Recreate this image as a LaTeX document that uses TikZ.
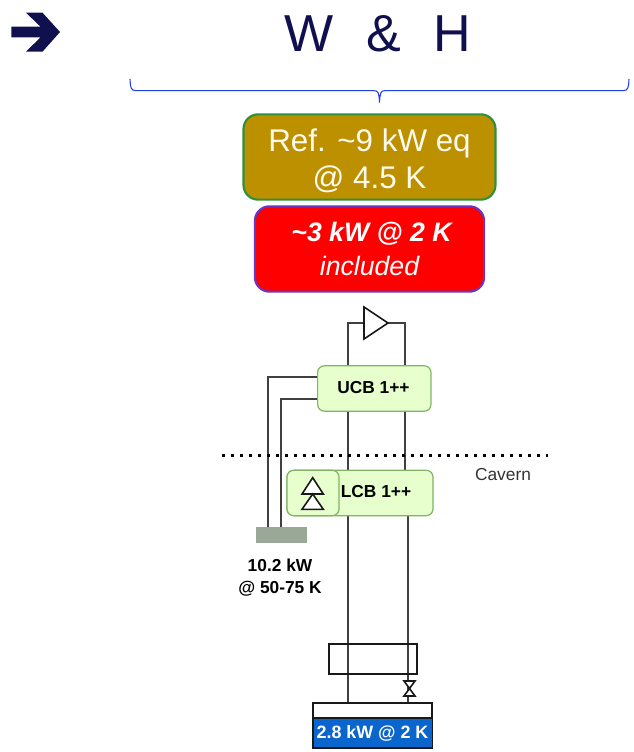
\documentclass[tikz,border=0pt]{standalone}
\usepackage{fontspec}
\setmainfont{Liberation Sans}
\definecolor{navy}{HTML}{10104F}
\definecolor{bracecol}{HTML}{1F3FE8}
\definecolor{goldfill}{HTML}{BD9000}
\definecolor{goldline}{HTML}{2F8F3A}
\definecolor{redline}{HTML}{6A35C4}
\definecolor{boxfill}{HTML}{E6FFCC}
\definecolor{boxline}{HTML}{82B366}
\definecolor{coldfill}{HTML}{0A66CC}
\definecolor{shieldfill}{HTML}{9AA898}
\definecolor{cream}{HTML}{FFFBEF}
\tikzset{
    pipe/.style={draw=black!75, line width=1.3pt},
    part/.style={draw=black!90, line width=1.2pt},
    coldbox/.style={rounded corners=5pt, fill=boxfill, draw=boxline, line width=0.9pt, inner sep=0pt},
    boxtext/.style={font=\bfseries\fontsize{13}{15}\selectfont, inner sep=0pt},
}
\begin{document}
\begin{tikzpicture}[x=0.75pt, y=-0.75pt]
    \useasboundingbox (0,0) rectangle (634,752);

    % title row
    \fill[navy] (11.3,26.7) -- (40.5,26.7) -- (26,12.7) -- (42.5,12.7) -- (60,32)
        -- (42.5,51.7) -- (26,51.7) -- (40.5,37.3) -- (11.3,37.3) -- cycle;
    \node[navy, font=\fontsize{39}{44}\selectfont, inner sep=0pt] (title) at (378,33.5) {W\hspace{24.4pt}\&\hspace{24.4pt}H};
    \draw[bracecol, line width=0.8pt] (130,79) .. controls (130.5,87) and (130.5,90.7) .. (136,90.7)
        -- (374,90.7) .. controls (378,90.7) and (379,92) .. (379.5,102.7)
        .. controls (380,92) and (381,90.7) .. (385,90.7)
        -- (623,90.7) .. controls (628.5,90.7) and (628.5,87) .. (629,79);

    % load boxes
    \node[fill=goldfill, draw=goldline, line width=1.6pt, rounded corners=11pt, text=cream, inner sep=0pt,
        minimum width=189pt, minimum height=64pt, align=center,
        font=\fontsize{23.5}{27.75}\selectfont] (refbox) at (369.5,157) {\rule{0pt}{23pt}Ref. \char`\~9 kW eq\\@ 4.5 K};
    \node[fill=red, draw=redline, line width=1.6pt, rounded corners=11pt, text=white, inner sep=0pt,
        minimum width=172pt, minimum height=64pt, align=center,
        font=\itshape\fontsize{20}{25}\selectfont] (redbox) at (369.5,249) {\hspace*{3pt}\bfseries \char`\~3 kW @ 2 K\\\mdseries included};

    % cycle lines
    \coordinate (ampin) at (364,323);
    \coordinate (ampout) at (388,323);
    \coordinate (topL) at (348,323);
    \coordinate (topR) at (405,323);
    \coordinate (lowL) at (348,703);
    \coordinate (lowR) at (408,703);
    \coordinate (hiOut) at (268,377);
    \coordinate (hiIn) at (281,399);
    \coordinate (shOut) at (268,527);
    \coordinate (shIn) at (281,527);
    \coordinate (lcbdropR) at (408,515);

    \draw[pipe] (ampin) -- (topL) -- (lowL);
    \draw[pipe] (ampout) -- (topR) -- (405,471);
    \draw[pipe] (lcbdropR) -- (lowR);
    \draw[pipe] (shOut) -- (hiOut) -- (320,377);
    \draw[pipe] (shIn) -- (hiIn) -- (320,399);

    % compressor
    \draw[part, fill=white] (ampin |- 0,307) -- (ampout) -- (ampin |- 0,339) -- cycle;

    % cold boxes
    \node[coldbox, minimum width=85pt, minimum height=34pt] (ucb) at (374.3,388.5) {};
    \node[boxtext] (ucblabel) at (373.5,387.5) {UCB 1++};
    \node[coldbox, minimum width=109.5pt, minimum height=34pt] (lcb) at (360,493) {};
    \node[coldbox, minimum width=39pt, minimum height=34pt] (lcbhx) at (313,493) {};
    \node[boxtext] (lcblabel) at (376,492) {LCB 1++};
    \draw[part, fill=white] (312.7,477.7) -- (323.3,494) -- (302,494) -- cycle;
    \draw[part, fill=white] (312.7,494) -- (323.3,509.3) -- (302,509.3) -- cycle;

    % surface level
    \draw[line width=2pt, dash pattern=on 2pt off 4.75pt] (222,455.5) -- (548,455.5);
    \node[black!80, font=\fontsize{13}{15}\selectfont, inner sep=0pt] (cavern) at (503,474.5) {Cavern};

    % thermal shield
    \node[fill=shieldfill, minimum width=38.25pt, minimum height=12.5pt, inner sep=0pt] (shield) at (281.2,535) {};
    \node[boxtext, align=center, font=\bfseries\fontsize{13}{16.5}\selectfont] (shieldload) at (280,578) {10.2 kW\\@ 50-75 K};

    % heat exchanger, valve and cold mass
    \draw[part] (329,644) rectangle (417,674);
    \draw[part, fill=white] (404,681) -- (415,681) -- (404,696) -- (415,696) -- cycle;
    \draw[part, fill=white] (313,703) rectangle (432,718);
    \node[fill=coldfill, draw=black!90, line width=1.2pt, minimum width=89.7pt, minimum height=22.5pt,
        text=white, inner sep=0pt, font=\bfseries\fontsize{13.4}{15}\selectfont] (coldmass) at (372.5,733.2) {2.8 kW @ 2 K};
\end{tikzpicture}
\end{document}
